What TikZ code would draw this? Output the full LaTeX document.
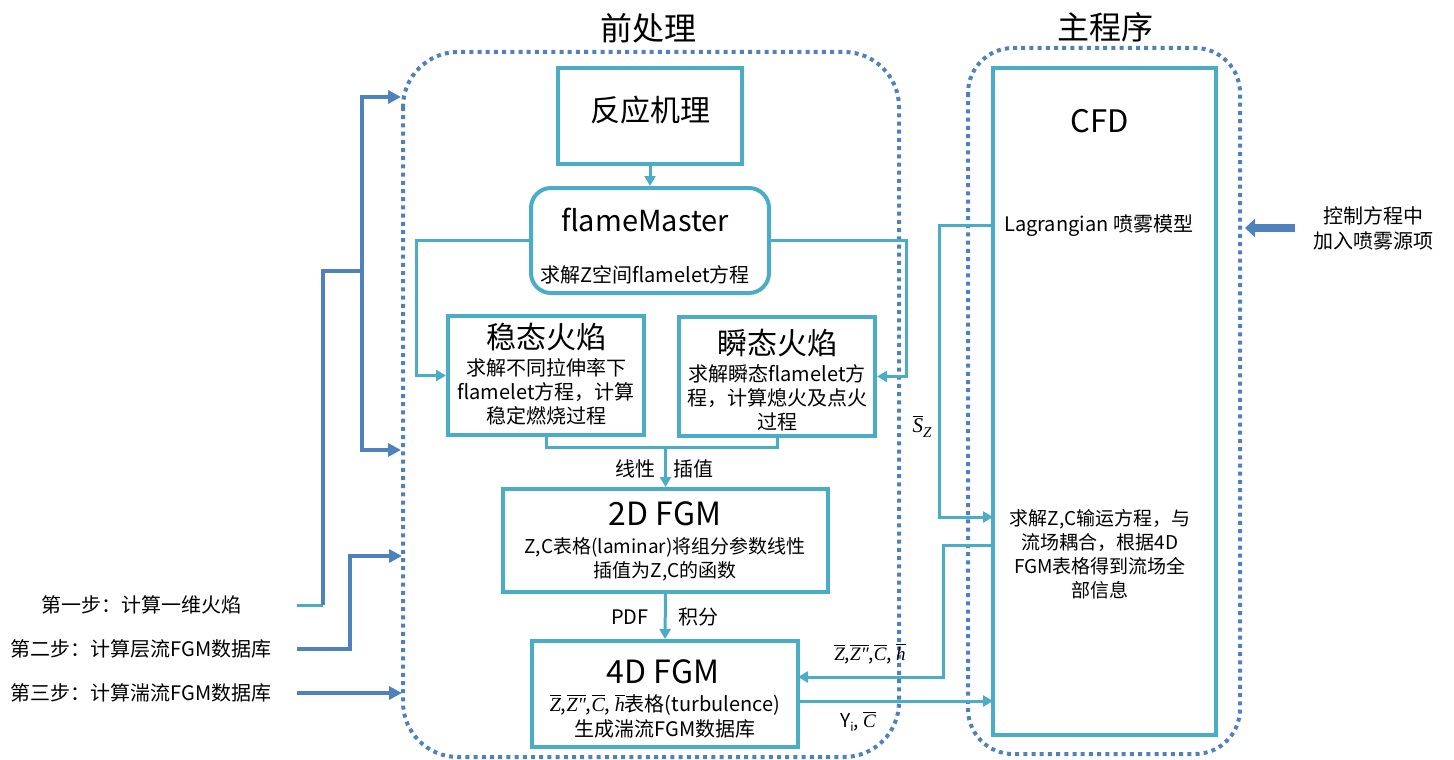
\documentclass[tikz,border=0pt]{standalone}
\usepackage{fontspec}
\setmainfont{Noto Sans CJK SC}
\newfontfamily\mif{Liberation Serif}
\newcommand\ob[1]{\leavevmode\vbox{\hrule height 1pt\kern 1.5pt\hbox{\mif\itshape #1}}}
\newcommand\mv[1]{{\mif\itshape #1}}
\usetikzlibrary{arrows.meta}
\definecolor{tl}{HTML}{4BACC6}
\definecolor{bl}{HTML}{4F81BD}
\tikzset{
  boxa/.style={draw=tl, line width=4pt, rectangle, inner sep=0pt},
  txt/.style={inner sep=0pt, align=center},
  tline/.style={draw=tl, line width=3pt, -{Triangle[length=10pt,width=11pt]}},
  tplain/.style={draw=tl, line width=3pt},
  bline/.style={draw=bl, line width=4pt, -{Triangle[length=13pt,width=13pt]}},
  bplain/.style={draw=bl, line width=4pt},
  dotbox/.style={draw=bl, line width=4pt, dash pattern=on 4pt off 4.2pt}
}
\begin{document}
\begin{tikzpicture}[x=1pt,y=-1pt]
\useasboundingbox (0,0) rectangle (1454,760);
% dotted groups
\draw[dotbox, rounded corners=55pt] (403,52) rectangle (899,757);
\draw[dotbox, rounded corners=45pt] (968,48) rectangle (1240,754);
\node[txt, font=\fontsize{32}{38}\selectfont] (pre) at (648,28) {前处理};
\node[txt, font=\fontsize{32}{38}\selectfont] (mainp) at (1105,27) {主程序};

% boxes
\node[boxa, minimum width=184pt, minimum height=95pt] (rx) at (650,116) {};
\node[txt, font=\fontsize{30}{36}\selectfont] (rxt) at (650,110) {反应机理};
\node[boxa, rounded corners=20pt, minimum width=238pt, minimum height=105pt] (fm) at (650,240.5) {};
\node[txt, font=\fontsize{29}{34}\selectfont] (fmt) at (645,220) {flameMaster};
\node[txt, font=\fontsize{20}{24}\selectfont] (fms) at (645,275) {求解Z空间flamelet方程};

\node[boxa, minimum width=196pt, minimum height=119pt] (st) at (546,375.5) {};
\node[txt, font=\fontsize{30}{36}\selectfont] (stt) at (546,337) {稳态火焰};
\node[txt, font=\fontsize{20}{24}\selectfont] (sts) at (546,392) {求解不同拉伸率下\\flamelet方程，计算\\稳定燃烧过程};

\node[boxa, minimum width=196pt, minimum height=119pt] (tr) at (777,376.5) {};
\node[txt, font=\fontsize{30}{36}\selectfont] (trt) at (777,343) {瞬态火焰};
\node[txt, font=\fontsize{20}{24}\selectfont] (trs) at (777,398) {求解瞬态flamelet方\\程，计算熄火及点火\\过程};

\node[boxa, minimum width=325pt, minimum height=103pt] (f2) at (665.5,540.5) {};
\node[txt, font=\fontsize{32}{38}\selectfont] (f2t) at (665,514) {2D FGM};
\node[txt, font=\fontsize{19}{24}\selectfont] (f2s) at (665,559) {Z,C表格(laminar)将组分参数线性\\插值为Z,C的函数};

\node[boxa, minimum width=266pt, minimum height=106pt] (f4) at (665,694) {};
\node[txt, font=\fontsize{32}{38}\selectfont] (f4t) at (663,672) {4D FGM};
\node[txt, font=\fontsize{20}{25}\selectfont] (f4s) at (665,716) {\ob{Z},\ob{Z″},\ob{C}, \ob{h}表格(turbulence)\\生成湍流FGM数据库};

\node[boxa, minimum width=223pt, minimum height=667pt] (cfd) at (1104.5,401.5) {};
\node[txt, font=\fontsize{31}{36}\selectfont] (cfdt) at (1100,121) {CFD};
\node[txt, font=\fontsize{20}{24}\selectfont, anchor=west] (lag) at (1004,226) {Lagrangian 喷雾模型};
\node[txt, font=\fontsize{19}{24}\selectfont] (zct) at (1100,554) {求解Z,C输运方程，与\\流场耦合，根据4D\\FGM表格得到流场全\\部信息};

% inner connectors
\draw[tline] (rx.south) -- (fm.north);
\draw[tline] (fm.west) -- ++(-113,0) |- (st.west);
\draw[tline] (fm.east) -- ++(135,0) |- (tr.east);
\coordinate (m) at (665.5,447);
\draw[tplain] (st.south) |- (m) -| (tr.south);
\draw[tline] (m) -- (f2.north);
\node[txt, font=\fontsize{20}{24}\selectfont] (lin) at (635,469) {线性};
\node[txt, font=\fontsize{20}{24}\selectfont] (itp) at (693,469) {插值};
\draw[tline] (f2.south) -- (f4.north);
\node[txt, font=\fontsize{20}{24}\selectfont] (pdf) at (630,617) {PDF};
\node[txt, font=\fontsize{20}{24}\selectfont] (jf) at (698,617) {积分};

% CFD connectors
\coordinate (lg) at (993,225);
\coordinate (zc) at (993,517);
\draw[tline] (lg) -- ++(-54,0) |- (zc);
\node[txt, font=\fontsize{21}{24}\selectfont] (sz) at (922,427) {\ob{S}\raisebox{-5pt}{\fontsize{15}{15}\selectfont\mv{Z}}};
\coordinate (zc2) at (993,545);
\coordinate (f4in) at (798,677);
\draw[tline] (zc2) -- ++(-50,0) |- (f4in);
\node[txt, font=\fontsize{19}{22}\selectfont] (zl) at (870,654) {\ob{Z},\ob{Z″},\ob{C}, \ob{h}};
\coordinate (f4out) at (798,701);
\coordinate (cfdin) at (993,701);
\draw[tline] (f4out) -- (cfdin);
\node[txt, font=\fontsize{19}{22}\selectfont] (yl) at (858,722) {Y\raisebox{-4pt}{\fontsize{12}{12}\selectfont i}, \ob{C}};

% right input
\node[txt, font=\fontsize{20}{25}\selectfont] (ctl) at (1373,228) {控制方程中\\加入喷雾源项};
\coordinate (ra) at (1295,228);
\coordinate (rb) at (1245,228);
\draw[draw=bl, line width=8pt, -{Triangle[length=10pt,width=18pt]}] (ra) -- (rb);

% steps
\node[txt, font=\fontsize{20}{24}\selectfont] (s1) at (141,605) {第一步：计算一维火焰};
\node[txt, font=\fontsize{20}{24}\selectfont] (s2) at (141,649) {第二步：计算层流FGM数据库};
\node[txt, font=\fontsize{20}{24}\selectfont] (s3) at (141,693) {第三步：计算湍流FGM数据库};
\coordinate (s1a) at (297,605);
\coordinate (s1b) at (323,605);
\coordinate (j1) at (323,271);
\coordinate (j2) at (362,271);
\coordinate (a1) at (401,97);
\coordinate (a2) at (401,450);
\draw[tplain] (s1a) -- (s1b);
\draw[bplain] (s1b) -- (j1) -- (j2);
\draw[bline] (j2) |- (a1);
\draw[bline] (j2) |- (a2);
\coordinate (s2a) at (297,649);
\coordinate (a3) at (402,556);
\draw[bline] (s2a) -- (350,649) |- (a3);
\coordinate (s3a) at (297,693);
\coordinate (a4) at (402,693);
\draw[bline] (s3a) -- (a4);
\end{tikzpicture}
\end{document}
